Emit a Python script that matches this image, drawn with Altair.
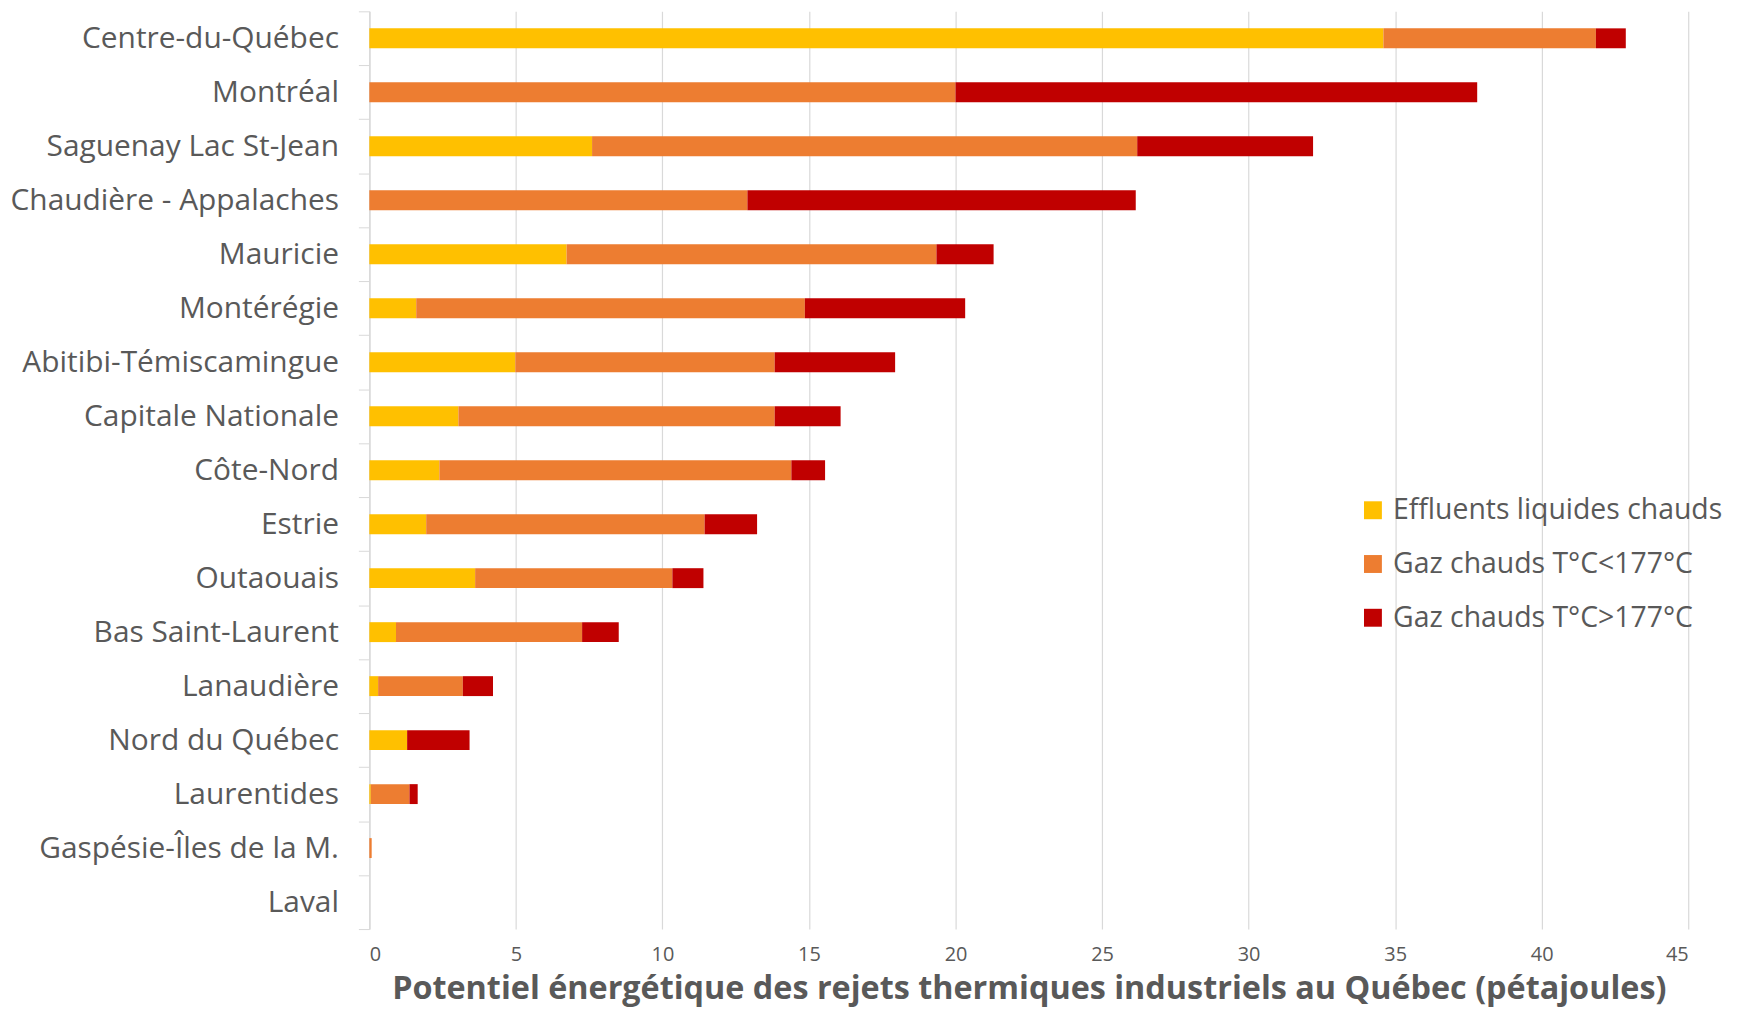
import altair as alt
import pandas as pd

regions = [
    "Centre-du-Québec", "Montréal", "Saguenay Lac St-Jean", "Chaudière - Appalaches",
    "Mauricie", "Montérégie", "Abitibi-Témiscamingue", "Capitale Nationale",
    "Côte-Nord", "Estrie", "Outaouais", "Bas Saint-Laurent", "Lanaudière",
    "Nord du Québec", "Laurentides", "Gaspésie-Îles de la M.", "Laval",
]
effluents = [34.6, 0, 7.6, 0, 6.73, 1.6, 4.98, 3.04, 2.39, 1.94, 3.61, 0.91, 0.3, 1.29, 0.05, 0, 0]
gaz_bas = [7.25, 20.0, 18.6, 12.9, 12.62, 13.26, 8.85, 10.79, 12.01, 9.5, 6.73, 6.35, 2.89, 0, 1.32, 0.08, 0]
gaz_haut = [1.02, 17.8, 6.0, 13.25, 1.95, 5.47, 4.11, 2.25, 1.15, 1.79, 1.06, 1.25, 1.03, 2.13, 0.28, 0, 0]

series_names = ["Effluents liquides chauds", "Gaz chauds T°C<177°C", "Gaz chauds T°C>177°C"]
series_values = [effluents, gaz_bas, gaz_haut]
colors = ["#FFC000", "#ED7D31", "#C00000"]
x_ticks = [0, 5, 10, 15, 20, 25, 30, 35, 40, 45]

rows = []
for i, r in enumerate(regions):
    for k, (name, vals) in enumerate(zip(series_names, series_values)):
        rows.append({"region": r, "serie": name, "val": vals[i], "ordre": k})
df = pd.DataFrame(rows)

FONT = "Open Sans"
GREY = "#595959"
LINE = "#d9d9d9"

chart = alt.Chart(df).mark_bar(size=20).encode(
    y=alt.Y(
        "region:N", sort=regions, title=None,
        scale=alt.Scale(paddingInner=0, paddingOuter=0),
        axis=alt.Axis(
            tickBand="extent", tickSize=11, tickColor=LINE, domainColor=LINE,
            domainWidth=1.5, grid=False, labelFont=FONT, labelFontSize=30,
            labelColor=GREY, labelPadding=20, labelLimit=0,
        ),
    ),
    x=alt.X(
        "val:Q", stack="zero",
        scale=alt.Scale(domain=[0, 45], nice=False),
        title="Potentiel énergétique des rejets thermiques industriels au Québec (pétajoules)",
        axis=alt.Axis(
            values=x_ticks, grid=True, gridColor=LINE, gridWidth=1.2, domain=False,
            ticks=False, labelFont=FONT, labelFontSize=20, labelColor=GREY,
            labelPadding=16, titleFont=FONT, titleFontSize=32.5, titleFontWeight="bold",
            titleColor=GREY, titlePadding=8, titleLimit=0,
        ),
    ),
    color=alt.Color(
        "serie:N",
        scale=alt.Scale(domain=series_names, range=colors),
        legend=alt.Legend(
            title=None, orient="none", legendX=994, legendY=487,
            symbolType="square", symbolSize=324, symbolStrokeWidth=0,
            labelFont=FONT, labelFontSize=28.5, labelColor=GREY,
            rowPadding=25, labelOffset=6, labelLimit=0,
        ),
    ),
    order=alt.Order("ordre:Q"),
).properties(
    width=1325, height=922,
    autosize=alt.AutoSizeParams(type="none"),
    padding={"left": 363, "top": 1, "right": 48, "bottom": 82},
).configure_view(stroke=None)

chart.save("out.html", embed_options={"renderer": "svg", "actions": False})
